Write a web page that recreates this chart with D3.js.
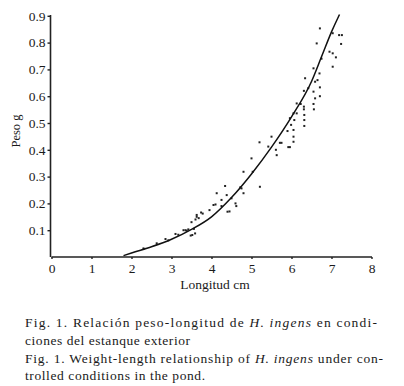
<html>
<head>
	<meta charset='utf-8' />
	<title>Peso-longitud H. ingens</title>
	<script src="https://d3js.org/d3.v7.min.js"></script>
	<style>
		body { margin: 0; background: #fff; }
		text { font-family: "Liberation Serif", "DejaVu Serif", serif; fill: #1a1a1a; }
	</style>
</head>
<body>
<script>

	// scatter points (longitud cm, peso g)
	var lengthCm = [2.3,2.63,2.85,2.92,3.1,3.17,3.3,3.38,3.42,3.48,3.52,3.5,3.35,3.56,3.59,3.63,3.63,3.6,3.68,3.74,3.78,3.95,4.05,4.1,4.13,4.25,4.25,4.34,4.38,4.4,4.45,4.5,4.6,4.62,4.75,4.72,4.8,4.8,5.0,5.03,5.21,5.2,5.42,5.5,5.61,5.63,5.71,5.75,5.92,5.9,5.96,5.99,5.96,6.05,6.05,6.05,6.05,6.07,6.13,6.13,6.23,6.31,6.31,6.31,6.32,6.32,6.32,6.34,6.42,6.55,6.55,6.55,6.56,6.59,6.59,6.63,6.65,6.7,6.71,6.71,6.71,6.75,6.95,7.03,7.03,7.03,7.11,7.19,7.26,7.24];
	var weightG = [0.032,0.051,0.067,0.062,0.086,0.083,0.1,0.098,0.103,0.08,0.082,0.13,0.1,0.105,0.088,0.15,0.157,0.14,0.145,0.166,0.162,0.175,0.194,0.196,0.238,0.213,0.19,0.265,0.231,0.169,0.17,0.219,0.2,0.19,0.256,0.26,0.238,0.318,0.368,0.318,0.262,0.428,0.412,0.449,0.4,0.38,0.426,0.426,0.41,0.47,0.41,0.493,0.518,0.43,0.449,0.474,0.536,0.511,0.536,0.573,0.571,0.62,0.561,0.551,0.53,0.511,0.489,0.667,0.63,0.704,0.617,0.571,0.551,0.654,0.592,0.797,0.66,0.685,0.853,0.633,0.6,0.74,0.766,0.835,0.76,0.71,0.745,0.828,0.828,0.795];

	// fitted curve
	var fitL = [1.8,2.0,2.5,3.0,3.5,4.0,4.5,5.0,5.5,6.0,6.5,6.75,7.0,7.2];
	var fitW = [0.005,0.015,0.038,0.066,0.103,0.15,0.222,0.31,0.41,0.523,0.655,0.747,0.84,0.905];

	var xTicks = [0,1,2,3,4,5,6,7,8];
	var yTicks = [0.1,0.2,0.3,0.4,0.5,0.6,0.7,0.8,0.9];

	var width = 404, height = 386;

	var svg = d3.select("body").append("svg")
		.attr("width", width)
		.attr("height", height);

	var x = d3.scaleLinear().domain([0,8]).range([51.5,371.5]);
	var y = d3.scaleLinear().domain([0,0.9]).range([257,15.8]);

	// axes
	var xAxis = svg.append("g")
		.attr("transform","translate(0,257)")
		.call(d3.axisBottom(x).tickValues(xTicks).tickSize(2).tickPadding(4).tickFormat(d3.format("d")));
	var yAxis = svg.append("g")
		.attr("transform","translate(50.5,0)")
		.call(d3.axisLeft(y).tickValues(yTicks).tickSize(3).tickPadding(2).tickFormat(d3.format(".1f")));

	svg.selectAll(".domain").attr("stroke","#222").attr("stroke-width",1.6);
	svg.selectAll(".tick line").attr("stroke","#222").attr("stroke-width",1.4);
	svg.selectAll(".tick text")
		.attr("font-size","13.5px")
		.attr("fill","#1a1a1a");
	xAxis.select(".domain").attr("d","M51.5,0H372");
	yAxis.select(".domain").attr("d","M0,257V15");

	// axis titles
	svg.append("text")
		.attr("x",215).attr("y",289)
		.attr("text-anchor","middle")
		.attr("font-size","13.5px")
		.text("Longitud cm");
	svg.append("text")
		.attr("transform","translate(20,131) rotate(-90)")
		.attr("text-anchor","middle")
		.attr("font-size","12.5px")
		.text("Peso g");

	// points
	svg.append("g").selectAll("rect")
		.data(lengthCm.map((l,i)=>[l,weightG[i]]))
		.enter().append("rect")
		.attr("x",d=>x(d[0])-1)
		.attr("y",d=>y(d[1])-1)
		.attr("width",2).attr("height",2)
		.attr("fill","#222");

	// curve
	var line = d3.line().x(d=>x(d[0])).y(d=>y(d[1])).curve(d3.curveMonotoneX);
	svg.append("path")
		.datum(fitL.map((l,i)=>[l,fitW[i]]))
		.attr("d",line)
		.attr("fill","none")
		.attr("stroke","#111")
		.attr("stroke-width",1.5);

	// caption
	var cap = svg.append("g").attr("font-size","13.5px");
	var l1 = cap.append("text").attr("x",25).attr("y",327)
		.attr("textLength",352).attr("lengthAdjust","spacing");
	l1.append("tspan").text("Fig. 1. Relación peso-longitud de ");
	l1.append("tspan").attr("font-style","italic").text("H. ingens");
	l1.append("tspan").text(" en condi-");
	cap.append("text").attr("x",25).attr("y",345)
		.attr("textLength",165).attr("lengthAdjust","spacing")
		.text("ciones del estanque exterior");
	var l3 = cap.append("text").attr("x",25).attr("y",362.5)
		.attr("textLength",358).attr("lengthAdjust","spacing");
	l3.append("tspan").text("Fig. 1. Weight-length relationship of ");
	l3.append("tspan").attr("font-style","italic").text("H. ingens");
	l3.append("tspan").text("  under con-");
	cap.append("text").attr("x",25).attr("y",379.5)
		.attr("textLength",180).attr("lengthAdjust","spacing")
		.text("trolled conditions in the pond.");

</script>
</body>
</html>
